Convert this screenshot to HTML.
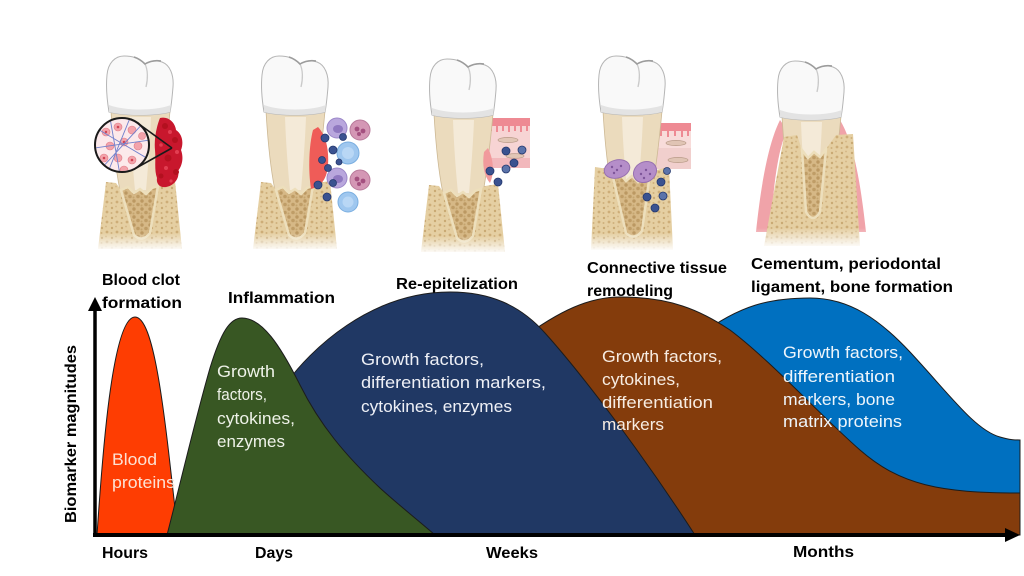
<!DOCTYPE html>
<html><head><meta charset="utf-8"><style>html,body{margin:0;padding:0;background:#fff}svg{display:block}</style></head>
<body>
<svg width="1024" height="576" viewBox="0 0 1024 576" xmlns="http://www.w3.org/2000/svg" xmlns:xlink="http://www.w3.org/1999/xlink" font-family="'Liberation Sans', Arial, sans-serif">
<defs>
  <pattern id="bone" width="10" height="10" patternUnits="userSpaceOnUse">
    <rect width="10" height="10" fill="#e5cfa2"/>
    <circle cx="2" cy="3" r="1.2" fill="#c9a973"/>
    <circle cx="7" cy="7" r="1.4" fill="#cdad78"/>
    <circle cx="6" cy="1.5" r="0.9" fill="#d3b684"/>
    <circle cx="1.5" cy="8" r="1" fill="#cfb07c"/>
  </pattern>
  <pattern id="spong" width="8" height="8" patternUnits="userSpaceOnUse">
    <rect width="8" height="8" fill="#d6b886"/>
    <circle cx="2" cy="2" r="1.7" fill="#bb9862"/>
    <circle cx="6" cy="5.5" r="1.8" fill="#bf9d67"/>
    <circle cx="1.5" cy="6.5" r="1" fill="#c5a46f"/>
  </pattern>
  <linearGradient id="fade" x1="0" y1="0" x2="0" y2="1">
    <stop offset="0" stop-color="#fff" stop-opacity="0"/>
    <stop offset="1" stop-color="#fff" stop-opacity="1"/>
  </linearGradient>
  <clipPath id="mag"><circle cx="122" cy="145" r="26"/></clipPath>
  <g id="cr">
    <path d="M-29,56 C-27,90 -24,118 -19,140 L19,140 C24,115 27,88 30,56 Z" fill="#ebdbbd" stroke="#cdb995" stroke-width="0.8"/>
    <path d="M-10,62 C-9,90 -7,115 -5,135 L6,135 C8,112 10,88 11,62 Z" fill="#f4ead8"/>
    <path d="M-31,57 C-33,45 -34,30 -33,20 C-32,8 -25,1 -16,1 C-8,1 0,3 5,9 C10,6 16,5 22,7 C30,10 34,20 33,32 C32,44 31,52 30,57 C15,61 -15,61 -31,57 Z" fill="#f9f9f9" stroke="#b5b5b5" stroke-width="1"/>
    <path d="M-31,50 C-15,56 15,56 31,50 L30,57 C15,61 -15,61 -31,57 Z" fill="#e3e3e3"/>
    <path d="M5,9 C8,15 8,24 6,32" fill="none" stroke="#cacaca" stroke-width="1.3"/>
    <path d="M-6,2 C0,4 3,7 5,9 C10,6 15,5 21,6" fill="none" stroke="#9c9c9c" stroke-width="1.6"/>
  </g>
  <g id="bn">
    <path d="M-34,127 L-24,128 L-19,135 L-12,132 L-6,138 L0,134 L6,139 L12,133 L18,131 L22,128 L35,126 L42,194 L-42,194 Z" fill="url(#bone)"/>
    <path d="M-19,135 L-12,132 L-6,138 L0,134 L6,139 L12,133 L18,131 L10,178 Q2,188 -6,180 Z" fill="url(#spong)" stroke="#eddfbc" stroke-width="2.5"/>
    <rect x="-46" y="178" width="92" height="18" fill="url(#fade)"/>
  </g>
</defs>
<rect width="1024" height="576" fill="#fff"/>

<!-- Tooth 1 -->
<g transform="translate(140,55)"><use xlink:href="#cr"/><use xlink:href="#bn"/></g>
<path d="M160,118 C168,116 175,122 176,130 C182,134 184,142 181,150 C184,158 182,166 178,171 C180,178 174,186 166,187 C160,188 156,184 157,178 C154,170 156,160 155,150 C154,140 156,128 160,118 Z" fill="#c8172d"/>
<g fill="#b3101f"><circle cx="165" cy="126" r="3"/><circle cx="175" cy="140" r="3"/><circle cx="168" cy="158" r="3.5"/><circle cx="176" cy="172" r="3"/><circle cx="161" cy="176" r="2.5"/></g>
<g fill="#e23e52"><circle cx="170" cy="132" r="2"/><circle cx="177" cy="152" r="2"/><circle cx="166" cy="168" r="2"/><circle cx="161" cy="145" r="1.8"/><circle cx="171" cy="181" r="1.6"/></g>
<line x1="137.9" y1="123.3" x2="172" y2="148" stroke="#1a1a1a" stroke-width="1.6"/>
<line x1="135.3" y1="168.5" x2="172" y2="148" stroke="#1a1a1a" stroke-width="1.6"/>
<circle cx="122" cy="145" r="27" fill="#fce9eb"/>
<g clip-path="url(#mag)">
  <g fill="#f3a3ab" stroke="#e07b86" stroke-width="0.6">
    <circle cx="106" cy="132" r="4"/><circle cx="118" cy="127" r="4"/><circle cx="132" cy="130" r="4"/>
    <circle cx="110" cy="146" r="4"/><circle cx="124" cy="142" r="4"/><circle cx="138" cy="146" r="4"/>
    <circle cx="104" cy="158" r="4"/><circle cx="118" cy="158" r="4"/><circle cx="132" cy="160" r="4"/>
    <circle cx="124" cy="170" r="4"/><circle cx="142" cy="136" r="3.5"/>
  </g>
  <g fill="#d04454"><circle cx="118" cy="127" r="1.3"/><circle cx="124" cy="142" r="1.3"/><circle cx="104" cy="158" r="1.3"/><circle cx="132" cy="160" r="1.3"/><circle cx="106" cy="132" r="1.2"/></g>
  <g stroke="#6f7fcc" stroke-width="0.9" fill="none">
    <path d="M96,128 L150,160"/><path d="M100,170 L146,120"/><path d="M95,148 L150,140"/><path d="M110,118 L120,175"/><path d="M130,118 L108,172"/>
  </g>
</g>
<circle cx="122" cy="145" r="27" fill="none" stroke="#1a1a1a" stroke-width="2"/>

<!-- Tooth 2 -->
<g transform="translate(295,55)"><use xlink:href="#cr"/><use xlink:href="#bn"/></g>
<path d="M318,127 C326,135 329,150 328,165 C327,178 322,186 311,189 C308,170 309,145 313,130 Z" fill="#ef5c58"/>
<g fill="#b9a7dd" stroke="#9c88c9" stroke-width="1"><circle cx="337" cy="128" r="10"/><circle cx="337" cy="178" r="10"/></g>
<g fill="#8f78c0"><ellipse cx="338" cy="129" rx="5" ry="4"/><ellipse cx="338" cy="179" rx="5" ry="4"/></g>
<g fill="#d497b5" stroke="#b97a9b" stroke-width="1"><circle cx="360" cy="130" r="10"/><circle cx="360" cy="180" r="10"/></g>
<g fill="#a4507f"><circle cx="357" cy="129" r="2.4"/><circle cx="363" cy="131" r="2.4"/><circle cx="359" cy="134" r="2"/><circle cx="357" cy="179" r="2.4"/><circle cx="363" cy="181" r="2.4"/><circle cx="359" cy="184" r="2"/></g>
<g fill="#9fc7ef" stroke="#7aaee0" stroke-width="1"><circle cx="348" cy="153" r="11"/><circle cx="348" cy="202" r="10"/></g>
<g fill="#b9d7f5"><circle cx="348" cy="153" r="6"/><circle cx="348" cy="202" r="5.5"/></g>
<g fill="#3a5290" stroke="#24386e" stroke-width="0.8">
  <circle cx="325" cy="138" r="4"/><circle cx="333" cy="150" r="4"/><circle cx="322" cy="160" r="3.5"/><circle cx="328" cy="168" r="3.5"/>
  <circle cx="318" cy="185" r="4"/><circle cx="327" cy="197" r="4"/><circle cx="343" cy="137" r="3.5"/><circle cx="333" cy="183" r="3.5"/><circle cx="339" cy="162" r="3"/>
</g>

<!-- Tooth 3 -->
<rect x="486" y="118" width="44" height="50" fill="#f7d4d4"/>
<rect x="486" y="118" width="44" height="8" fill="#ee8a93"/>
<g fill="#ee8a93"><rect x="490" y="125" width="2" height="6"/><rect x="496" y="125" width="2" height="7"/><rect x="502" y="125" width="2" height="6"/><rect x="508" y="125" width="2" height="7"/><rect x="514" y="125" width="2" height="6"/><rect x="520" y="125" width="2" height="7"/><rect x="526" y="125" width="2" height="6"/></g>
<rect x="486" y="158" width="44" height="10" fill="#f2b8bc"/>
<g fill="#e2c6b6" stroke="#b99b89" stroke-width="0.7"><ellipse cx="508" cy="140" rx="10" ry="2.6"/><ellipse cx="515" cy="156" rx="9" ry="2.4"/></g>
<g transform="translate(463,58)"><use xlink:href="#cr"/><use xlink:href="#bn"/></g>
<path d="M488,148 C493,158 495,172 490,183 C484,176 482,165 484,152 Z" fill="#f19a9c"/>
<g fill="#3a5290" stroke="#24386e" stroke-width="0.8">
  <circle cx="506" cy="151" r="4"/><circle cx="522" cy="150" r="4" fill="#5b73aa"/><circle cx="514" cy="163" r="4"/>
  <circle cx="490" cy="171" r="4"/><circle cx="506" cy="169" r="4" fill="#5b73aa"/><circle cx="498" cy="182" r="4"/>
</g>

<!-- Tooth 4 -->
<rect x="655" y="123" width="36" height="46" fill="#f8dcda"/>
<rect x="655" y="123" width="36" height="8" fill="#ee8a93"/>
<g fill="#ee8a93"><rect x="660" y="130" width="2" height="6"/><rect x="667" y="130" width="2" height="7"/><rect x="674" y="130" width="2" height="6"/><rect x="681" y="130" width="2" height="7"/><rect x="687" y="130" width="2" height="6"/></g>
<rect x="655" y="148" width="36" height="21" fill="#f1cfcd"/>
<g fill="#e0c4b4" stroke="#b99b89" stroke-width="0.7"><ellipse cx="676" cy="143" rx="10" ry="2.6"/><ellipse cx="678" cy="160" rx="10" ry="2.6"/></g>
<g transform="translate(632,55)">
  <use xlink:href="#cr"/>
  <path d="M-37,112 L-24,114 L-19,122 L-12,119 L-6,126 L0,121 L6,127 L12,120 L18,118 L24,115 L37,112 L41,195 L-41,195 Z" fill="url(#bone)"/>
  <path d="M-19,122 L-12,119 L-6,126 L0,121 L6,127 L12,120 L18,118 L10,176 Q2,186 -6,178 Z" fill="url(#spong)" stroke="#eddfbc" stroke-width="2.5"/>
  <rect x="-46" y="178" width="92" height="18" fill="url(#fade)"/>
</g>
<g fill="#b58ec9" stroke="#9770b0" stroke-width="1">
  <ellipse cx="617" cy="169" rx="13" ry="9" transform="rotate(-15 617 169)"/>
  <ellipse cx="645" cy="172" rx="12" ry="10" transform="rotate(-30 645 172)"/>
</g>
<g fill="#7e559a"><circle cx="612" cy="167" r="1.2"/><circle cx="617" cy="170" r="1.2"/><circle cx="621" cy="166" r="1.2"/><circle cx="614" cy="173" r="1.2"/><circle cx="641" cy="174" r="1.2"/><circle cx="646" cy="170" r="1.2"/><circle cx="650" cy="174" r="1.2"/><circle cx="644" cy="178" r="1.2"/></g>
<g fill="#3a5290" stroke="#24386e" stroke-width="0.8">
  <circle cx="667" cy="171" r="3.5" fill="#5b73aa"/><circle cx="661" cy="182" r="4"/><circle cx="647" cy="197" r="4"/><circle cx="663" cy="196" r="4" fill="#5b73aa"/><circle cx="655" cy="208" r="4"/>
</g>

<!-- Tooth 5 -->
<path d="M780,120 C770,140 762,175 756,232 L771,232 C773,185 778,150 787,130 Z" fill="#f0a3a9"/>
<path d="M840,120 C852,140 860,175 866,232 L851,232 C849,185 844,150 835,130 Z" fill="#f0a3a9"/>
<g transform="translate(811,60)"><use xlink:href="#cr"/></g>
<path d="M784,137 L797,135 L802,150 L808,158 L814,152 L820,157 L826,149 L836,135 L853,134 L860,246 L764,246 Z" fill="url(#bone)"/>
<path d="M802,150 L808,158 L814,152 L820,157 L826,149 L820,212 Q813,224 806,212 Z" fill="url(#spong)" stroke="#eddfbc" stroke-width="2.5"/>
<rect x="750" y="228" width="122" height="20" fill="url(#fade)"/>

<!-- Curves -->
<g stroke="#1c1c1c" stroke-width="1">
  <path d="M700,535 L700,335 C740,305 770,298 810,298 C850,298 880,320 910,352 C950,395 975,430 1000,437 C1010,440 1015,440 1020,440 L1020,535 Z" fill="#0070c0"/>
  <path d="M520,535 L520,340 C560,310 590,297 620,297 C670,297 700,310 730,330 C770,360 820,415 860,450 C900,485 940,493 1020,493 L1020,535 Z" fill="#843c0c"/>
  <path d="M285,535 L285,385 C310,350 370,292 450,292 C490,292 520,305 545,333 C580,372 640,450 695,535 Z" fill="#203864"/>
  <path d="M97,535 C102,460 112,317 135,317 C156,317 166,430 178,535 Z" fill="#fe3d02"/>
  <path d="M167,535 C180,485 195,420 210,368 C221,332 230,318 242,318 C262,318 280,345 300,385 C320,425 345,455 380,488 C400,506 420,522 435,535 Z" fill="#385723"/>
</g>

<!-- Axes -->
<line x1="95" y1="537" x2="95" y2="308" stroke="#000" stroke-width="3.5"/>
<polygon points="95,297 88,311 102,311" fill="#000"/>
<line x1="93" y1="535" x2="1006" y2="535" stroke="#000" stroke-width="4"/>
<polygon points="1020,535 1005,528 1005,542" fill="#000"/>

<!-- Body text -->
<g font-size="16.5">
  <g fill="#fde2d4">
    <text x="112" y="465" textLength="45" lengthAdjust="spacingAndGlyphs">Blood</text>
    <text x="112" y="488" textLength="63" lengthAdjust="spacingAndGlyphs">proteins</text>
  </g>
  <g fill="#eef2e8">
    <text x="217" y="377" textLength="58" lengthAdjust="spacingAndGlyphs">Growth</text>
    <text x="217" y="400" textLength="50" lengthAdjust="spacingAndGlyphs">factors,</text>
    <text x="217" y="424" textLength="78" lengthAdjust="spacingAndGlyphs">cytokines,</text>
    <text x="217" y="447" textLength="68" lengthAdjust="spacingAndGlyphs">enzymes</text>
  </g>
  <g fill="#eef0f6">
    <text x="361" y="365" textLength="123" lengthAdjust="spacingAndGlyphs">Growth factors,</text>
    <text x="361" y="388" textLength="185" lengthAdjust="spacingAndGlyphs">differentiation markers,</text>
    <text x="361" y="412" textLength="151" lengthAdjust="spacingAndGlyphs">cytokines, enzymes</text>
  </g>
  <g fill="#f7ece2">
    <text x="602" y="362" textLength="120" lengthAdjust="spacingAndGlyphs">Growth factors,</text>
    <text x="602" y="385" textLength="78" lengthAdjust="spacingAndGlyphs">cytokines,</text>
    <text x="602" y="408" textLength="111" lengthAdjust="spacingAndGlyphs">differentiation</text>
    <text x="602" y="430" textLength="62" lengthAdjust="spacingAndGlyphs">markers</text>
  </g>
  <g fill="#eef5fb">
    <text x="783" y="358" textLength="120" lengthAdjust="spacingAndGlyphs">Growth factors,</text>
    <text x="783" y="382" textLength="112" lengthAdjust="spacingAndGlyphs">differentiation</text>
    <text x="783" y="405" textLength="112" lengthAdjust="spacingAndGlyphs">markers, bone</text>
    <text x="783" y="427" textLength="119" lengthAdjust="spacingAndGlyphs">matrix proteins</text>
  </g>
</g>

<!-- Titles -->
<g font-size="16" font-weight="bold" fill="#000">
  <text x="102" y="285" textLength="78" lengthAdjust="spacingAndGlyphs">Blood clot</text>
  <text x="102" y="308" textLength="80" lengthAdjust="spacingAndGlyphs">formation</text>
  <text x="228" y="303" textLength="107" lengthAdjust="spacingAndGlyphs">Inflammation</text>
  <text x="396" y="289" textLength="122" lengthAdjust="spacingAndGlyphs">Re-epitelization</text>
  <text x="587" y="273" textLength="140" lengthAdjust="spacingAndGlyphs">Connective tissue</text>
  <text x="587" y="296" textLength="86" lengthAdjust="spacingAndGlyphs">remodeling</text>
  <text x="751" y="269" textLength="190" lengthAdjust="spacingAndGlyphs">Cementum, periodontal</text>
  <text x="751" y="292" textLength="202" lengthAdjust="spacingAndGlyphs">ligament, bone formation</text>
  <text x="102" y="558" textLength="46" lengthAdjust="spacingAndGlyphs">Hours</text>
  <text x="255" y="558" textLength="38" lengthAdjust="spacingAndGlyphs">Days</text>
  <text x="486" y="558" textLength="52" lengthAdjust="spacingAndGlyphs">Weeks</text>
  <text x="793" y="557" textLength="61" lengthAdjust="spacingAndGlyphs">Months</text>
  <text transform="translate(76,523) rotate(-90)" textLength="178" lengthAdjust="spacingAndGlyphs">Biomarker magnitudes</text>
</g>
</svg>
</body></html>
